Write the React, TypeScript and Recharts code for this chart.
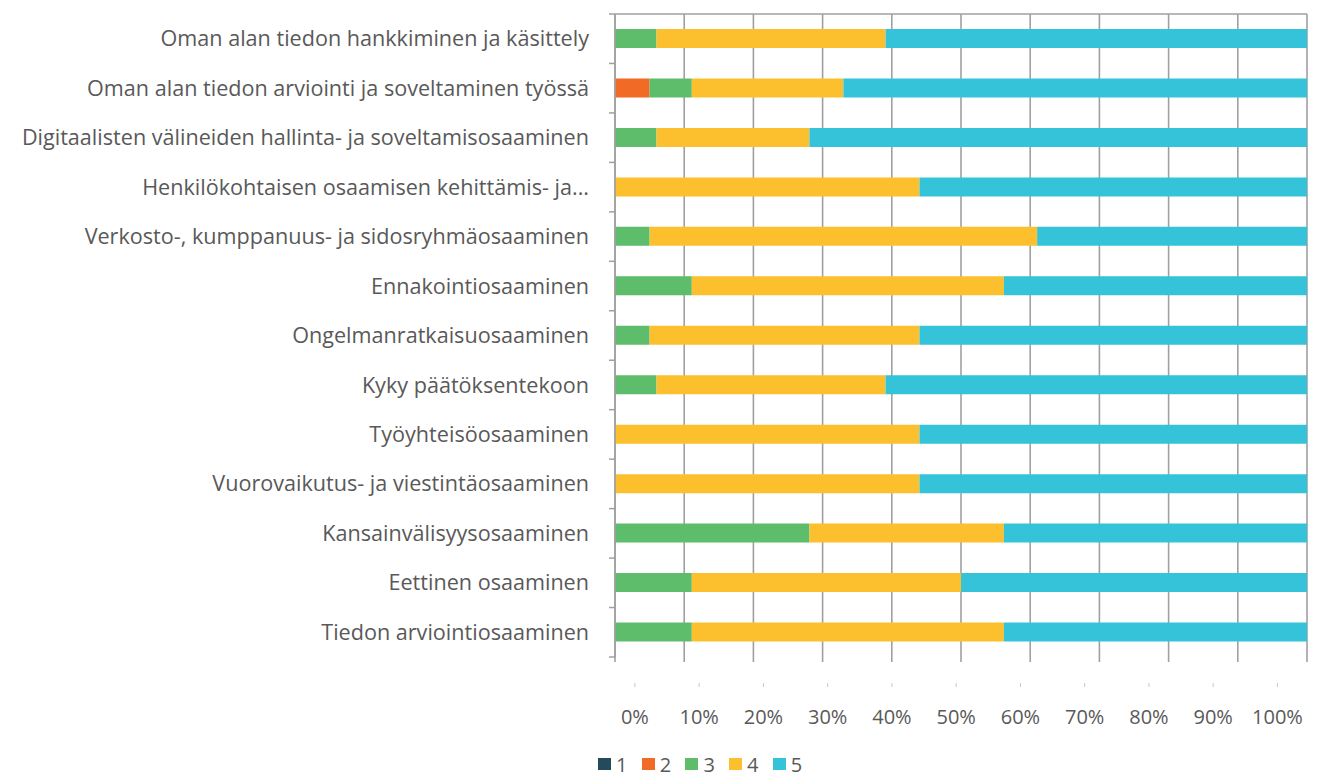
import { Bar, BarChart, CartesianGrid, Legend, XAxis, YAxis } from "recharts";

const categories = [
  "Oman alan tiedon hankkiminen ja käsittely",
  "Oman alan tiedon arviointi ja soveltaminen työssä",
  "Digitaalisten välineiden hallinta- ja soveltamisosaaminen",
  "Henkilökohtaisen osaamisen kehittämis- ja...",
  "Verkosto-, kumppanuus- ja sidosryhmäosaaminen",
  "Ennakointiosaaminen",
  "Ongelmanratkaisuosaaminen",
  "Kyky päätöksentekoon",
  "Työyhteisöosaaminen",
  "Vuorovaikutus- ja viestintäosaaminen",
  "Kansainvälisyysosaaminen",
  "Eettinen osaaminen",
  "Tiedon arviointiosaaminen"
];

// share of answers per scale value, in %
const s1 = [0, 0, 0, 0, 0, 0, 0, 0, 0, 0, 0, 0, 0];
const s2 = [0, 5.0, 0, 0, 0, 0, 0, 0, 0, 0, 0, 0, 0];
const s3 = [6.0, 6.1, 6.0, 0, 5.0, 11.1, 5.0, 6.0, 0, 0, 28.1, 11.1, 11.1];
const s4 = [33.1, 21.9, 22.1, 44.0, 56.0, 45.1, 39.0, 33.1, 44.0, 44.0, 28.1, 38.9, 45.1];
const s5 = [60.9, 67.0, 71.9, 56.0, 39.0, 43.8, 56.0, 60.9, 56.0, 56.0, 43.8, 50.0, 43.8];

const seriesNames = ["1", "2", "3", "4", "5"];
const seriesColors = ["#234b5b", "#f26b26", "#5dbd6a", "#fcbf2d", "#35c3d9"];
const xTicks = [0, 10, 20, 30, 40, 50, 60, 70, 80, 90, 100];
// the percent labels sit a bit off the grid in the original, so they get their own axis
const labelDomain = [-3.1, 104.6];

const data = categories.map((name, i) => ({
  name,
  s1: s1[i],
  s2: s2[i],
  s3: s3[i],
  s4: s4[i],
  s5: s5[i]
}));

const AXIS_GRAY = "#a0a0a0";
const TEXT = "#595959";
const FONT = "'Open Sans', sans-serif";

// category label plus a small tick on the band edge, like Excel draws it
function CategoryTick(props: any) {
  const { x, y, payload, index } = props;
  const half = payload.offset || 24.7;
  const last = index === categories.length - 1;
  return (
    <g>
      <line x1={x - 6} x2={x} y1={y - half} y2={y - half} stroke={AXIS_GRAY} strokeWidth={1.5} />
      {last && <line x1={x - 6} x2={x} y1={y + half} y2={y + half} stroke={AXIS_GRAY} strokeWidth={1.5} />}
      <text x={x - 26} y={y} dy="0.35em" textAnchor="end" fill={TEXT} fontSize={21.6} fontFamily={FONT}>
        {payload.value}
      </text>
    </g>
  );
}

function LegendBox() {
  return (
    <div style={{ display: "flex", alignItems: "center", height: 30, paddingLeft: 8, fontFamily: FONT }}>
      {seriesNames.map((n, i) => (
        <div key={n} style={{ display: "flex", alignItems: "center", width: 43.7 }}>
          <span style={{ width: 13, height: 12, background: seriesColors[i], display: "inline-block" }} />
          <span style={{ marginLeft: 5, fontSize: 20, color: TEXT }}>{n}</span>
        </div>
      ))}
    </div>
  );
}

export default function App() {
  return (
    <div style={{ position: "absolute", left: 0, top: 0, background: "#fff" }}>
      <BarChart
        width={1332}
        height={779}
        layout="vertical"
        data={data}
        margin={{ top: 7, right: 25, left: 0, bottom: 0 }}
        barSize={19}
      >
        <CartesianGrid horizontal={false} xAxisId="bot" stroke={AXIS_GRAY} strokeWidth={1.6} />
        <XAxis
          xAxisId="top"
          orientation="top"
          type="number"
          domain={[0, 100]}
          ticks={xTicks}
          height={7}
          tickSize={7}
          axisLine={{ stroke: AXIS_GRAY, strokeWidth: 1.6 }}
          tickLine={{ stroke: AXIS_GRAY, strokeWidth: 1.6 }}
          tickFormatter={() => ""}
        />
        <XAxis
          xAxisId="bot"
          type="number"
          domain={[0, 100]}
          ticks={xTicks}
          height={26}
          tickSize={5}
          axisLine={false}
          tickLine={{ stroke: AXIS_GRAY, strokeWidth: 1.6 }}
          tickFormatter={() => ""}
        />
        <XAxis
          xAxisId="lbl"
          type="number"
          domain={labelDomain}
          allowDataOverflow
          ticks={xTicks}
          interval={0}
          height={66}
          tickSize={4}
          tickMargin={23}
          axisLine={false}
          tickLine={{ stroke: "#c8c8c8" }}
          tick={{ fill: TEXT, fontSize: 20, fontFamily: FONT }}
          tickFormatter={(v) => `${v}%`}
        />
        <YAxis
          yAxisId="cat"
          type="category"
          dataKey="name"
          width={615}
          tickSize={0}
          tickMargin={0}
          axisLine={{ stroke: AXIS_GRAY, strokeWidth: 1.6 }}
          tickLine={false}
          interval={0}
          tick={<CategoryTick />}
        />
        <Legend verticalAlign="bottom" content={() => <LegendBox />} wrapperStyle={{ left: 590, width: "auto" }} />
        {["s1", "s2", "s3", "s4", "s5"].map((k, i) => (
          <Bar
            key={k}
            dataKey={k}
            name={seriesNames[i]}
            stackId="a"
            xAxisId="bot"
            yAxisId="cat"
            fill={seriesColors[i]}
            isAnimationActive={false}
          />
        ))}
      </BarChart>
    </div>
  );
}
